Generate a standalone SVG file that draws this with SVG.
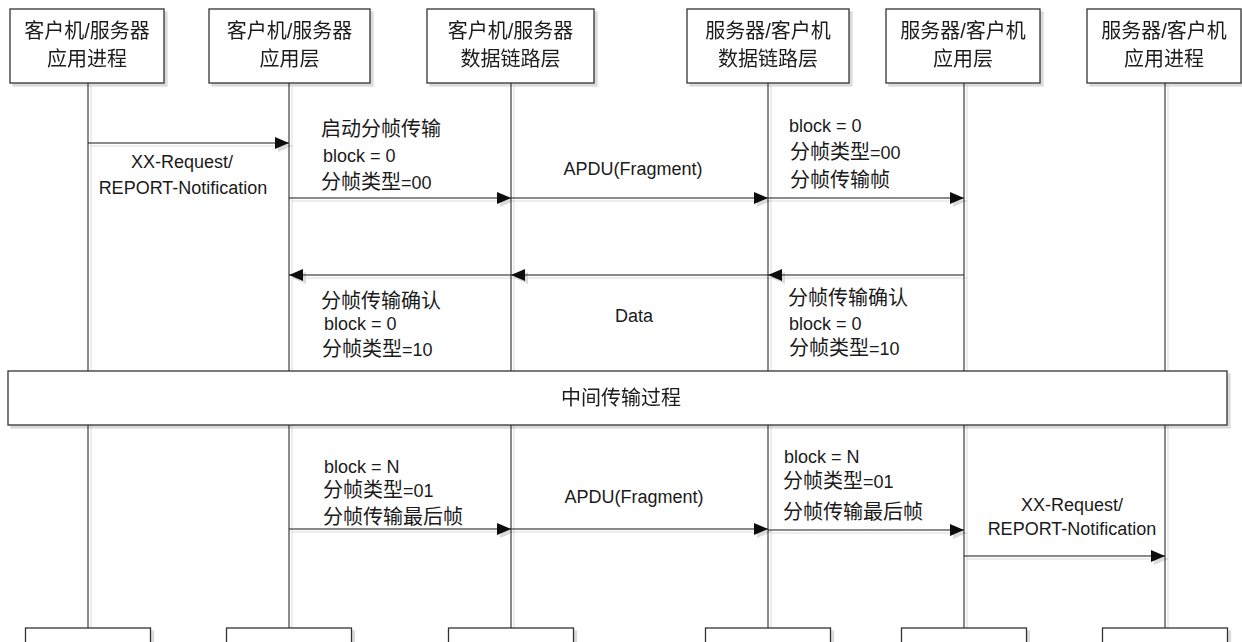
<svg xmlns="http://www.w3.org/2000/svg" width="1242" height="642" viewBox="0 0 1242 642">
  <style>
    text { font-family: "Liberation Sans", "Noto Sans CJK SC", sans-serif; font-size: 18px; fill: #1a1a1a; }
    .c { font-size: 20px; }
    .mid { text-anchor: middle; }
    .box { fill: #fff; stroke: #333; stroke-width: 1.3; }
    .life { stroke: #111; stroke-width: 1; fill: none; }
    .msg { stroke: #111; stroke-width: 1; fill: none; marker-end: url(#arrow); }
  </style>
  <defs>
    <filter id="shadow" x="-5%" y="-5%" width="115%" height="120%">
      <feDropShadow dx="3" dy="3" stdDeviation="0.6" flood-color="#000" flood-opacity="0.14"/>
    </filter>
    <marker id="arrow" markerUnits="userSpaceOnUse" markerWidth="14" markerHeight="12" refX="14" refY="6" orient="auto">
      <path d="M0,0 L14,6 L0,12 Z" fill="#111"/>
    </marker>
  </defs>

  <!-- lifelines -->
  <g id="lifelines" filter="url(#shadow)">
    <line class="life" x1="88" y1="83" x2="88" y2="628"/>
    <line class="life" x1="289" y1="83" x2="289" y2="628"/>
    <line class="life" x1="511" y1="83" x2="511" y2="628"/>
    <line class="life" x1="768" y1="83" x2="768" y2="628"/>
    <line class="life" x1="964" y1="83" x2="964" y2="628"/>
    <line class="life" x1="1165" y1="83" x2="1165" y2="628"/>
  </g>

  <!-- participant heads -->
  <g id="client-app-process" filter="url(#shadow)">
    <rect class="box" x="10" y="9" width="154" height="74"/>
    <text class="c mid" x="87" y="38">客户机/服务器</text>
    <text class="c mid" x="87" y="66">应用进程</text>
  </g>
  <g id="client-app-layer" filter="url(#shadow)">
    <rect class="box" x="209" y="9" width="161" height="74"/>
    <text class="c mid" x="289.5" y="38">客户机/服务器</text>
    <text class="c mid" x="289.5" y="66">应用层</text>
  </g>
  <g id="client-link-layer" filter="url(#shadow)">
    <rect class="box" x="427" y="9" width="167" height="74"/>
    <text class="c mid" x="510.5" y="38">客户机/服务器</text>
    <text class="c mid" x="510.5" y="66">数据链路层</text>
  </g>
  <g id="server-link-layer" filter="url(#shadow)">
    <rect class="box" x="687" y="9" width="162" height="74"/>
    <text class="c mid" x="768" y="38">服务器/客户机</text>
    <text class="c mid" x="768" y="66">数据链路层</text>
  </g>
  <g id="server-app-layer" filter="url(#shadow)">
    <rect class="box" x="886" y="9" width="154" height="74"/>
    <text class="c mid" x="963" y="38">服务器/客户机</text>
    <text class="c mid" x="963" y="66">应用层</text>
  </g>
  <g id="server-app-process" filter="url(#shadow)">
    <rect class="box" x="1087" y="9" width="154" height="74"/>
    <text class="c mid" x="1164" y="38">服务器/客户机</text>
    <text class="c mid" x="1164" y="66">应用进程</text>
  </g>

  <!-- participant feet -->
  <g id="feet" filter="url(#shadow)">
    <rect class="box" x="25.5" y="628" width="125" height="30"/>
    <rect class="box" x="226.5" y="628" width="125" height="30"/>
    <rect class="box" x="448.5" y="628" width="125" height="30"/>
    <rect class="box" x="705.5" y="628" width="125" height="30"/>
    <rect class="box" x="901.5" y="628" width="125" height="30"/>
    <rect class="box" x="1102.5" y="628" width="125" height="30"/>
  </g>

  <!-- messages -->
  <g id="connectors" filter="url(#shadow)">
    <line class="msg" x1="88" y1="143" x2="289" y2="143"/>
    <line class="msg" x1="289" y1="198" x2="511" y2="198"/>
    <line class="msg" x1="511" y1="198" x2="768" y2="198"/>
    <line class="msg" x1="768" y1="198" x2="964" y2="198"/>
    <line class="msg" x1="964" y1="275" x2="768" y2="275"/>
    <line class="msg" x1="768" y1="275" x2="511" y2="275"/>
    <line class="msg" x1="511" y1="275" x2="289" y2="275"/>
    <line class="msg" x1="289" y1="529" x2="511" y2="529"/>
    <line class="msg" x1="511" y1="529" x2="768" y2="529"/>
    <line class="msg" x1="768" y1="530" x2="964" y2="530"/>
    <line class="msg" x1="964" y1="556" x2="1165" y2="556"/>
  </g>

  <!-- message labels -->
  <g id="labels">
    <text class="mid" x="182" y="168">XX-Request/</text>
    <text class="mid" x="183" y="194">REPORT-Notification</text>

    <text x="321" y="136"><tspan class="c">启动分帧传输</tspan></text>
    <text x="323" y="162">block = 0</text>
    <text x="321" y="189"><tspan class="c">分帧类型</tspan>=00</text>

    <text class="mid" x="633" y="175">APDU(Fragment)</text>

    <text x="789" y="132">block = 0</text>
    <text x="790" y="159"><tspan class="c">分帧类型</tspan>=00</text>
    <text x="790" y="187"><tspan class="c">分帧传输帧</tspan></text>

    <text x="321" y="308"><tspan class="c">分帧传输确认</tspan></text>
    <text x="324" y="330">block = 0</text>
    <text x="322" y="356"><tspan class="c">分帧类型</tspan>=10</text>

    <text class="mid" x="634" y="322">Data</text>

    <text x="788" y="305"><tspan class="c">分帧传输确认</tspan></text>
    <text x="789" y="330">block = 0</text>
    <text x="789" y="355"><tspan class="c">分帧类型</tspan>=10</text>

    <text x="324" y="473">block = N</text>
    <text x="323" y="497"><tspan class="c">分帧类型</tspan>=01</text>
    <text x="323" y="524"><tspan class="c">分帧传输最后帧</tspan></text>

    <text class="mid" x="634" y="503">APDU(Fragment)</text>

    <text x="784" y="463">block = N</text>
    <text x="783" y="488"><tspan class="c">分帧类型</tspan>=01</text>
    <text x="783" y="519"><tspan class="c">分帧传输最后帧</tspan></text>

    <text class="mid" x="1072" y="511">XX-Request/</text>
    <text class="mid" x="1072" y="535">REPORT-Notification</text>
  </g>

  <!-- spanning bar -->
  <g id="intermediate-transfer" filter="url(#shadow)">
    <rect class="box" x="8" y="371" width="1219" height="54"/>
    <text class="c mid" x="621" y="405">中间传输过程</text>
  </g>
</svg>
